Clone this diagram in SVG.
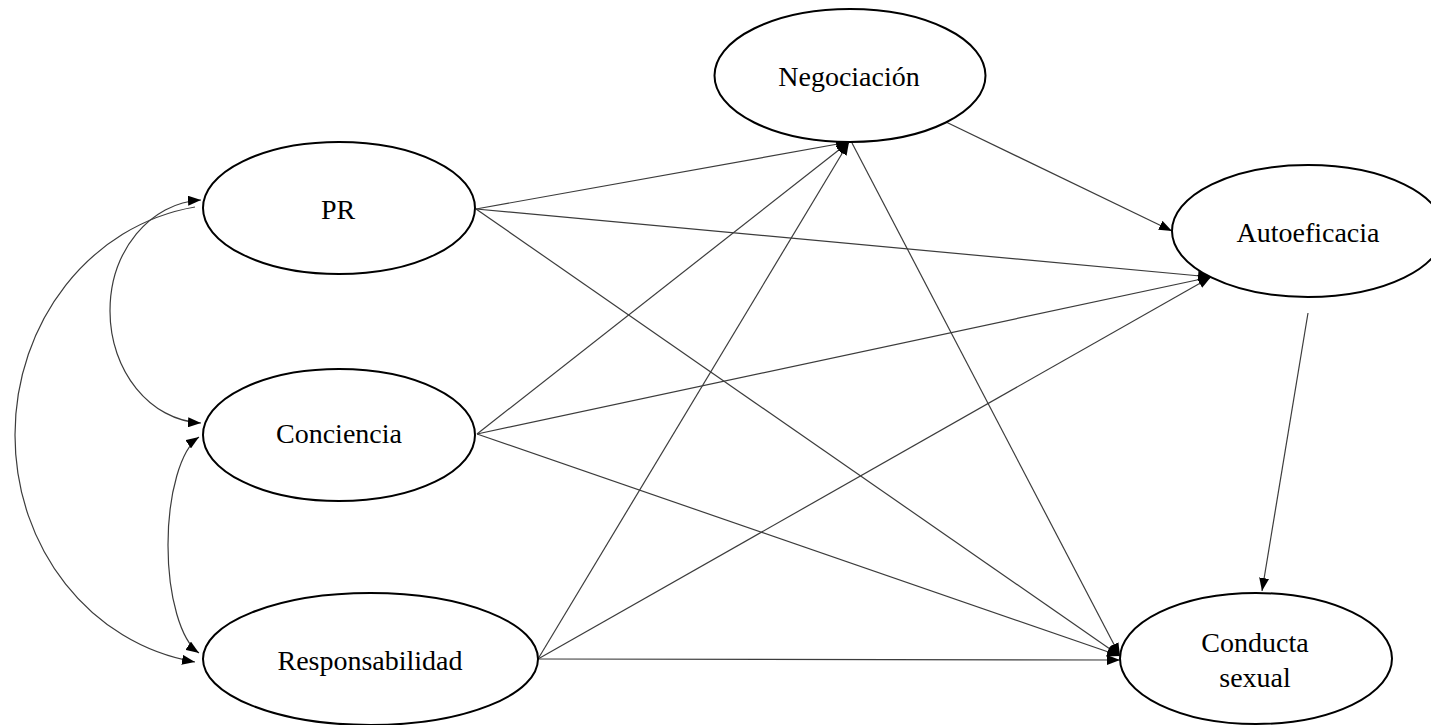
<svg xmlns="http://www.w3.org/2000/svg" width="1431" height="725" viewBox="0 0 1431 725">
  <style>
    .node ellipse { fill: #ffffff; stroke: #000000; stroke-width: 2; }
    .node text { font-family: "Liberation Serif", "Times New Roman", serif; font-size: 28px; fill: #000000; text-anchor: middle; }
    .edge { fill: none; stroke: #3c3c3c; stroke-width: 1.2; }
  </style>
  <defs>
    <marker id="arrow" markerUnits="userSpaceOnUse" markerWidth="13" markerHeight="10" refX="13" refY="5" orient="auto-start-reverse">
      <path d="M0,0 L13,5 L0,10 Z" fill="#000000"/>
    </marker>
  </defs>

  <rect width="1431" height="725" fill="#ffffff"/>

  <!-- connectors -->
  <g id="connectors">
    <!-- correlations on the left -->
    <path class="edge" d="M195,207 C90,225 15,322 15,435 C15,548 90,644 195,662" marker-end="url(#arrow)"/>
    <path class="edge" d="M201,200 C150,202.5 110,251 110,311 C110,371 150,420.5 201,423" marker-start="url(#arrow)" marker-end="url(#arrow)"/>
    <path class="edge" d="M199,437 C181,449 168,493 168,545 C168,597 181,641 199,653" marker-start="url(#arrow)" marker-end="url(#arrow)"/>

    <!-- paths to Negociación -->
    <line class="edge" x1="476" y1="209" x2="849" y2="142" marker-end="url(#arrow)"/>
    <line class="edge" x1="477" y1="434" x2="849" y2="142" marker-end="url(#arrow)"/>
    <line class="edge" x1="538" y1="659" x2="849" y2="142" marker-end="url(#arrow)"/>

    <!-- paths to Autoeficacia -->
    <line class="edge" x1="476" y1="209" x2="1211" y2="277" marker-end="url(#arrow)"/>
    <line class="edge" x1="477" y1="434" x2="1211" y2="277" marker-end="url(#arrow)"/>
    <line class="edge" x1="538" y1="659" x2="1211" y2="277" marker-end="url(#arrow)"/>
    <line class="edge" x1="946" y1="122" x2="1172" y2="231" marker-end="url(#arrow)"/>

    <!-- paths to Conducta sexual -->
    <line class="edge" x1="476" y1="209" x2="1120" y2="656" marker-end="url(#arrow)"/>
    <line class="edge" x1="477" y1="434" x2="1120" y2="656" marker-end="url(#arrow)"/>
    <line class="edge" x1="538" y1="659" x2="1120" y2="660" marker-end="url(#arrow)"/>
    <line class="edge" x1="852" y1="143" x2="1120" y2="656" marker-end="url(#arrow)"/>
    <line class="edge" x1="1308" y1="313" x2="1262" y2="591" marker-end="url(#arrow)"/>
  </g>

  <!-- nodes -->
  <g id="node-pr" class="node">
    <ellipse cx="339" cy="208" rx="136" ry="66"/>
    <text x="338" y="219">PR</text>
  </g>
  <g id="node-conciencia" class="node">
    <ellipse cx="339" cy="435" rx="136" ry="66"/>
    <text x="339" y="443">Conciencia</text>
  </g>
  <g id="node-responsabilidad" class="node">
    <ellipse cx="370.5" cy="659" rx="167.5" ry="66"/>
    <text x="370" y="670">Responsabilidad</text>
  </g>
  <g id="node-negociacion" class="node">
    <ellipse cx="850" cy="75.5" rx="135.5" ry="66.5"/>
    <text x="849" y="86">Negociación</text>
  </g>
  <g id="node-autoeficacia" class="node">
    <ellipse cx="1308" cy="231" rx="136" ry="66"/>
    <text x="1308" y="242">Autoeficacia</text>
  </g>
  <g id="node-conducta" class="node">
    <ellipse cx="1256" cy="658.5" rx="136" ry="65.5"/>
    <text x="1255" y="652">Conducta</text>
    <text x="1255" y="687">sexual</text>
  </g>
</svg>
